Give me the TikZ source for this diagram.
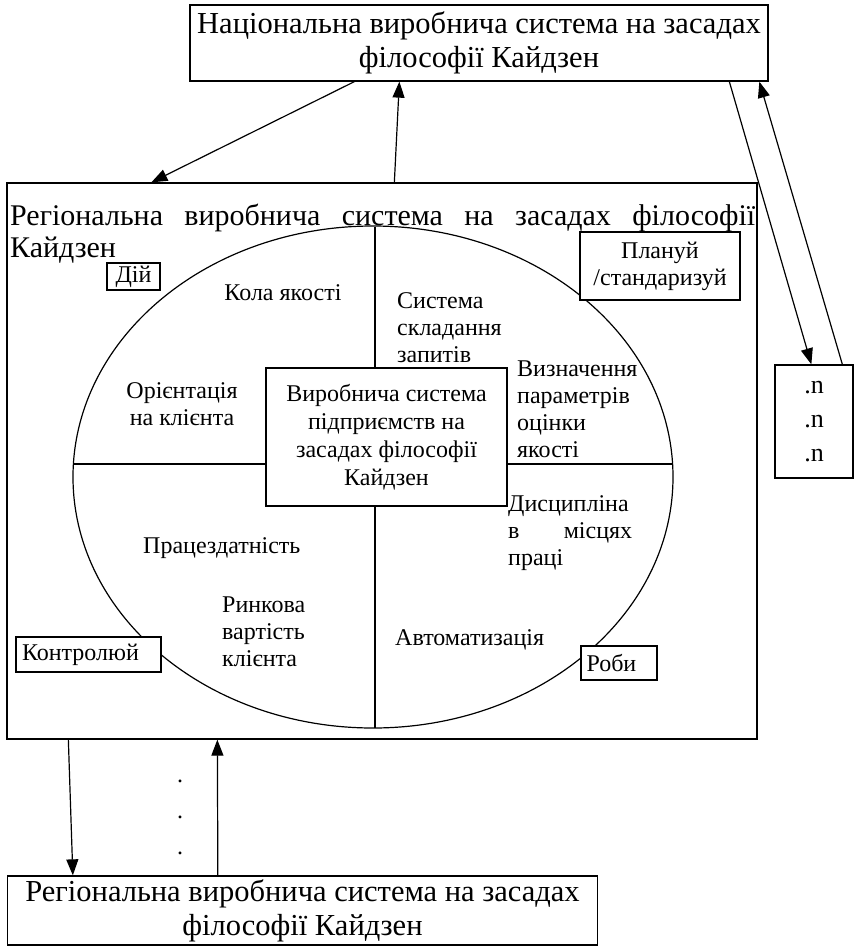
\documentclass[tikz,border=0pt]{standalone}
\usepackage{fontspec}
\setmainfont{Liberation Serif}
\usetikzlibrary{arrows.meta}

\tikzstyle{bigbox} = [rectangle, draw=black, line width=1.3pt, align=center, font=\fontsize{30.5}{34}\selectfont]
\tikzstyle{tagbox} = [rectangle, draw=black, line width=1.2pt, align=center, inner sep=2pt, font=\fontsize{24}{27}\selectfont]
\tikzstyle{txt} = [inner sep=0pt, font=\fontsize{24}{27}\selectfont]
\tikzstyle{arrow} = [line width=1.2pt, -{Triangle[length=16pt,width=12pt]}]

\begin{document}
\begin{tikzpicture}[x=1pt, y=-1pt]
\useasboundingbox (0,0) rectangle (854,946);

% National level
\node (national) [bigbox, minimum width=578pt, minimum height=76pt] at (479,43) {Національна виробнича система на засадах\\філософії Кайдзен};
\node (nbox) [bigbox, minimum width=78pt, minimum height=113pt, font=\fontsize{26}{34}\selectfont] at (814,421.5) {.n\\.n\\.n};

% Regional level
\node (region) [draw, line width=1.3pt, minimum width=750pt, minimum height=556pt, inner sep=0pt] at (382,461) {};
\node (regtitle) [inner sep=0pt, anchor=north west, text width=745pt, align=justify, font=\fontsize{30}{32}\selectfont] at (10,204) {Регіональна виробнича система на засадах філософії\linebreak Кайдзен};

% Circle of quality and its quarters
\draw [line width=1.2pt] (373,477) ellipse [x radius=300pt, y radius=251pt];
\draw [line width=1.2pt] (73,464) -- (673,464);
\draw [line width=1.2pt] (375,227) -- (375,728);

% Enterprise level
\node (core) [tagbox, fill=white, minimum width=241pt, minimum height=138pt, font=\fontsize{24}{28}\selectfont] at (386.5,437) {Виробнича система\\підприємств на\\засадах філософії\\Кайдзен};

% PDCA tags
\node (act) [tagbox, minimum width=53pt, minimum height=27pt] at (133.5,276.5) {Дій};
\node (plan) [tagbox, fill=white, minimum width=160pt, minimum height=68pt] at (660,266) {Плануй\\/стандаризуй};
\node (check) [tagbox, fill=white, text width=133pt, align=left, inner xsep=6pt, minimum height=35pt] at (88.5,654.5) {Контролюй};
\node (do) [tagbox, fill=white, text width=65pt, align=left, inner xsep=5.5pt, minimum height=34pt] at (619,663) {Роби};

% Quarter texts
\node (circles) [txt] at (283,293) {Кола якості};
\node (requests) [txt, anchor=west, align=left] at (397,328) {Система\\складання\\запитів};
\node (client) [txt, align=center] at (182,404) {Орієнтація\\на клієнта};
\node (params) [txt, anchor=west, align=left] at (517,409) {Визначення\\параметрів\\оцінки\\якості};
\node (discipline) [txt, anchor=west, text width=124pt, align=justify] at (508,533) {Дисципліна\linebreak в місцях\linebreak праці};
\node (workability) [txt, anchor=west] at (143,548) {Працездатність};
\node (value) [txt, anchor=west, align=left] at (222,632) {Ринкова\\вартість\\клієнта};
\node (automation) [txt, anchor=west] at (395,640) {Автоматизація};

% Lower regional level
\node (lowregion) [bigbox, minimum width=590pt, minimum height=69pt] at (302.5,910.5) {Регіональна виробнича система на засадах\\філософії Кайдзен};
\node (dots) [txt, align=center, font=\fontsize{24}{36}\selectfont] at (180,817) {.\\.\\.};

% Arrows between national and regional level
\draw [arrow] ([xshift=165pt]national.south west) -- ([xshift=145pt]region.north west);
\draw [arrow] ([xshift=388pt]region.north west) -- ([xshift=210pt]national.south west);
\draw [arrow] ([xshift=540pt]national.south west) -- ([xshift=37pt]nbox.north west);
\draw [arrow] ([xshift=68pt]nbox.north west) -- ([xshift=570pt]national.south west);

% Arrows between regional levels
\draw [arrow] ([xshift=62pt]region.south west) -- ([xshift=66pt]lowregion.north west);
\draw [arrow] ([xshift=211pt]lowregion.north west) -- ([xshift=211pt]region.south west);

\end{tikzpicture}
\end{document}
